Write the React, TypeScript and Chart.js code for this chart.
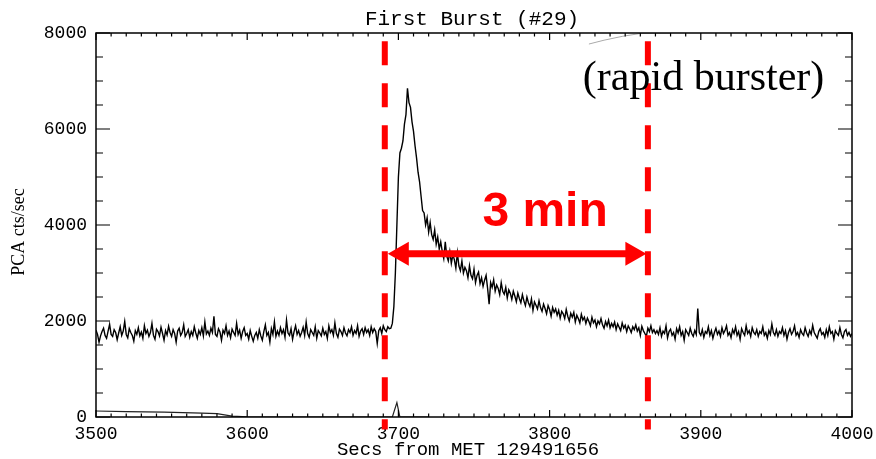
import React, { useEffect, useRef } from "react";
import { Chart, registerables } from "chart.js";

Chart.register(...registerables);

// ---- data -------------------------------------------------------------
const TIME_START = 3500; // seconds from MET 129491656
const TIME_STEP = 1; // seconds per bin

// PCA count rate (cts/sec), 3500 .. 3694 s
const preBurstCounts = [
  1810, 1720, 1560, 1690, 1780, 1850, 1700, 1640, 1790, 1930, 1720, 1680, 1820, 1760, 1610,
  1750, 1880, 1700, 1790, 1990, 1720, 1650, 1840, 1760, 1700, 1580, 1800, 1720, 1860, 1690,
  1770, 1640, 1900, 1740, 1810, 1680, 1760, 1950, 1700, 1620, 1830, 1780, 1690, 1870, 1740,
  1600, 1800, 1710, 1890, 1760, 1680, 1820, 1740, 1560, 1790, 1850, 1700, 1760, 1920, 1680,
  1740, 1820, 1660, 1780, 1700, 1880, 1750, 1640, 1800, 1720, 1860, 1690, 1980, 1730, 1790,
  1700, 1850, 1760, 2100, 1720, 1680, 1840, 1770, 1600, 1810, 1740, 1900, 1700, 1790, 1650,
  1830, 1760, 1700, 1950, 1720, 1810, 1640, 1780, 1860, 1700, 1740, 1620, 1800, 1680, 1580,
  1700, 1760, 1640, 1820, 1690, 1600, 1780, 1920, 1700, 1760, 1560, 1840, 1720, 1980, 1680,
  1790, 1700, 1860, 1740, 1820, 1660, 2020, 1750, 1700, 1840, 1620, 1780, 1900, 1720, 1800,
  1680, 1760, 1870, 1700, 1980, 1740, 1660, 1820, 1760, 1700, 1880, 1640, 1800, 1750, 1690,
  1850, 1720, 1780, 1640, 1900, 1760, 1820, 1700, 1960, 1740, 1660, 1830, 1780, 1700, 1860,
  1750, 1690, 1820, 1760, 1880, 1700, 1800, 1740, 1900, 1680, 1790, 1840, 1720, 1860, 1760,
  1820, 1700, 1880, 1760, 1840, 1780, 1530, 1800, 1860, 1740, 1900, 1820, 1780, 1880, 1840,
];

// 3695 .. 3870 s (the burst)
const burstCounts = [
  1850, 1950, 2300, 3000, 4000, 5000, 5500, 5600, 5750, 6100,
  6300, 6850, 6550, 6450, 6150, 5950, 5650, 5400, 5100, 4900,
  4600, 4300, 4250, 4000, 4150, 3850, 4050, 3800, 3700, 3900,
  3600, 3750, 3500, 3650, 3450, 3300, 3650, 3350, 3250, 3450,
  3200, 3380, 3280, 3100, 3420, 3150, 3050, 3250, 3000, 3120,
  3050, 2900, 3150, 2950, 2880, 3080, 2800, 2950, 3020, 2780,
  2900, 2720, 2850, 2950, 2680, 2350, 2800, 2700, 2860, 2620,
  2750, 2680, 2550, 2800, 2620, 2560, 2700, 2480, 2650, 2580,
  2450, 2620, 2520, 2400, 2580, 2470, 2380, 2550, 2420, 2320,
  2500, 2380, 2300, 2460, 2220, 2400, 2330, 2250, 2420, 2280,
  2200, 2350, 2260, 2150, 2320, 2240, 2100, 2280, 2180, 2250,
  2120, 2220, 2060, 2200, 2150, 2050, 2240, 2100, 2000, 2160,
  2080, 2180, 1980, 2120, 2050, 1960, 2140, 2020, 2080, 1950,
  2060, 1990, 1900, 2080, 1960, 2020, 1880, 2000, 1940, 2050,
  1920, 1850, 1990, 1900, 2020, 1860, 1950, 1880, 1980, 1820,
  1940, 1870, 1800, 1960, 1850, 1910, 1780, 1900, 1840, 1760,
  1880, 1820, 1920, 1790, 1860, 1700, 1890, 1800, 1740, 1680,
  1850, 1780, 1900, 1760, 1820, 1740,
];

// 3871 .. 4000 s
const postBurstCounts = [
  1800, 1720, 1860, 1680, 1790, 1740, 1900, 1650, 1780, 1830,
  1700, 1760, 1620, 1840, 1750, 1880, 1700, 1780, 1600, 1820,
  1760, 1700, 1850, 1740, 1680, 1800, 1720, 2260, 1760, 1700,
  1820, 1660, 1780, 1740, 1880, 1700, 1800, 1640, 1760, 1850,
  1720, 1790, 1680, 1860, 1740, 1800, 1900, 1700, 1760, 1650,
  1820, 1740, 1880, 1700, 1780, 1620, 1840, 1760, 1700, 1900,
  1740, 1800, 1680, 1860, 1760, 1720, 1820, 1680, 1780, 1740,
  1880, 1700, 1760, 1640, 1800, 1720, 1940, 1760, 1700, 1820,
  1680, 1780, 1740, 1860, 1700, 1800, 1620, 1760, 1840, 1720,
  1780, 1900, 1700, 1760, 1660, 1820, 1740, 1700, 1860, 1750,
  1680, 1800, 1720, 1910, 1760, 1700, 1640, 1780, 1840, 1720,
  1760, 1660, 1820, 1700, 1880, 1740, 1780, 1620, 1800, 1740,
  1700, 1860, 1720, 1650, 1780, 1820, 1700, 1760, 1680, 1740,
];

// faint traces of the scanned original
const lowerTraceTimes = [3500, 3520, 3545, 3570, 3580, 3590, 3600, 3640, 3696, 3699, 3701, 3720];
const lowerTraceValues = [125, 110, 100, 80, 70, 20, 5, 0, 0, 300, 0, 0];
const upperTraceTimes = [3826, 3836, 3848, 3860, 3880];
const upperTraceValues = [7770, 7850, 7930, 7990, 8000];

// axes
const X_MIN = 3500;
const X_MAX = 4000;
const X_MAJOR = 100;
const X_MINOR = 10;
const Y_MIN = 0;
const Y_MAX = 8000;
const Y_MAJOR = 2000;
const Y_MINOR = 500;

// annotations
const markerTimes = [3691, 3865];
const arrowTimes = [3693, 3864];
const arrowLevel = 3400;

const TITLE = "First Burst (#29)";
const X_TITLE = "Secs from MET 129491656";
const Y_TITLE = "PCA cts/sec";
const SPAN_LABEL = "3 min";
const SOURCE_LABEL = "(rapid burster)";

// ---- chart ------------------------------------------------------------
const MONO = "'Liberation Mono', 'DejaVu Sans Mono', monospace";

const decorPlugin = {
  id: "decor",
  afterDraw(chart: any) {
    const { ctx, chartArea: a } = chart;
    const xs = chart.scales.x;
    const ys = chart.scales.y;
    ctx.save();

    // frame
    ctx.strokeStyle = "#000";
    ctx.lineWidth = 1.5;
    ctx.strokeRect(a.left, a.top, a.right - a.left, a.bottom - a.top);

    // inward tick marks on all four sides
    ctx.lineWidth = 1.2;
    ctx.beginPath();
    for (let t = X_MIN; t <= X_MAX; t += X_MINOR) {
      const px = xs.getPixelForValue(t);
      const len = t % X_MAJOR === 0 ? 7 : 3.5;
      ctx.moveTo(px, a.bottom);
      ctx.lineTo(px, a.bottom - len);
      ctx.moveTo(px, a.top);
      ctx.lineTo(px, a.top + len);
    }
    for (let v = Y_MIN; v <= Y_MAX; v += Y_MINOR) {
      const py = ys.getPixelForValue(v);
      const len = v % Y_MAJOR === 0 ? 14 : 7;
      ctx.moveTo(a.left, py);
      ctx.lineTo(a.left + len, py);
      ctx.moveTo(a.right, py);
      ctx.lineTo(a.right - len, py);
    }
    ctx.stroke();

    // titles
    ctx.fillStyle = "#000";
    ctx.textAlign = "center";
    ctx.textBaseline = "alphabetic";
    ctx.font = `21px ${MONO}`;
    ctx.fillText(TITLE, (a.left + a.right) / 2 - 2, 25);
    ctx.font = `19px ${MONO}`;
    ctx.fillText(X_TITLE, (a.left + a.right) / 2 - 6, 455);
    ctx.save();
    ctx.translate(19, (a.top + a.bottom) / 2 + 7);
    ctx.rotate(-Math.PI / 2);
    ctx.textBaseline = "middle";
    ctx.font = "18px 'Liberation Serif', 'Times New Roman', serif";
    ctx.fillText(Y_TITLE, 0, 0);
    ctx.restore();

    // red dashed markers
    ctx.strokeStyle = "#ff0000";
    ctx.lineWidth = 6;
    ctx.setLineDash([24, 18]);
    for (const t of markerTimes) {
      const px = xs.getPixelForValue(t);
      ctx.beginPath();
      ctx.moveTo(px, ys.getPixelForValue(7830));
      ctx.lineTo(px, ys.getPixelForValue(-262));
      ctx.stroke();
    }
    ctx.setLineDash([]);

    // double arrow
    const x1 = xs.getPixelForValue(arrowTimes[0]);
    const x2 = xs.getPixelForValue(arrowTimes[1]);
    const py = ys.getPixelForValue(arrowLevel);
    const head = 21;
    const half = 12;
    ctx.lineWidth = 7;
    ctx.beginPath();
    ctx.moveTo(x1 + head - 2, py);
    ctx.lineTo(x2 - head + 2, py);
    ctx.stroke();
    ctx.fillStyle = "#ff0000";
    ctx.beginPath();
    ctx.moveTo(x1, py);
    ctx.lineTo(x1 + head, py - half);
    ctx.lineTo(x1 + head, py + half);
    ctx.closePath();
    ctx.fill();
    ctx.beginPath();
    ctx.moveTo(x2, py);
    ctx.lineTo(x2 - head, py - half);
    ctx.lineTo(x2 - head, py + half);
    ctx.closePath();
    ctx.fill();

    // "3 min"
    ctx.font = "bold 48px 'Liberation Sans', Arial, sans-serif";
    ctx.textAlign = "center";
    ctx.textBaseline = "alphabetic";
    ctx.fillText(SPAN_LABEL, xs.getPixelForValue(3797), ys.getPixelForValue(3979));

    // "(rapid burster)"
    ctx.fillStyle = "#000";
    ctx.font = "42px 'Liberation Serif', 'Times New Roman', serif";
    ctx.textAlign = "left";
    ctx.fillText(SOURCE_LABEL, xs.getPixelForValue(3822), ys.getPixelForValue(6812));

    ctx.restore();
  },
};

export default function App() {
  const canvasRef = useRef<HTMLCanvasElement | null>(null);

  useEffect(() => {
    const canvas = canvasRef.current;
    if (!canvas) return;
    const counts = [...preBurstCounts, ...burstCounts, ...postBurstCounts];
    const lightCurve = counts.map((v, i) => ({ x: TIME_START + i * TIME_STEP, y: v }));
    const lowerTrace = lowerTraceTimes.map((t, i) => ({ x: t, y: lowerTraceValues[i] }));
    const upperTrace = upperTraceTimes.map((t, i) => ({ x: t, y: upperTraceValues[i] }));

    const chart = new Chart(canvas, {
      type: "line",
      data: {
        datasets: [
          {
            data: lightCurve,
            borderColor: "#000",
            borderWidth: 1.4,
            pointRadius: 0,
            tension: 0,
          },
          {
            data: lowerTrace,
            borderColor: "#222",
            borderWidth: 1.2,
            pointRadius: 0,
            tension: 0,
          },
          {
            data: upperTrace,
            borderColor: "#aaa",
            borderWidth: 1,
            pointRadius: 0,
            tension: 0,
          },
        ],
      },
      options: {
        responsive: false,
        animation: false,
        events: [],
        layout: { padding: { top: 33, right: 24, left: 0, bottom: 0 } },
        plugins: { legend: { display: false }, tooltip: { enabled: false }, title: { display: false } },
        scales: {
          x: {
            type: "linear",
            min: X_MIN,
            max: X_MAX,
            grid: { display: false, drawTicks: false },
            border: { display: false },
            ticks: {
              stepSize: X_MAJOR,
              color: "#000",
              padding: 6,
              maxRotation: 0,
              font: { family: MONO, size: 18 },
              callback: (v: any) => String(v),
            },
            afterFit: (s: any) => {
              s.height = 42;
              s.paddingLeft = 0;
              s.paddingRight = 0;
            },
          },
          y: {
            type: "linear",
            min: Y_MIN,
            max: Y_MAX,
            grid: { display: false, drawTicks: false },
            border: { display: false },
            ticks: {
              stepSize: Y_MAJOR,
              color: "#000",
              padding: 9,
              font: { family: MONO, size: 18 },
              callback: (v: any) => String(v),
            },
            afterFit: (s: any) => {
              s.width = 96;
              s.paddingTop = 0;
              s.paddingBottom = 0;
            },
          },
        },
      },
      plugins: [decorPlugin],
    });
    return () => chart.destroy();
  }, []);

  return (
    <div style={{ position: "fixed", left: 0, top: 0, width: 876, height: 459, background: "#fff" }}>
      <canvas ref={canvasRef} width={876} height={459} style={{ display: "block" }} />
    </div>
  );
}
